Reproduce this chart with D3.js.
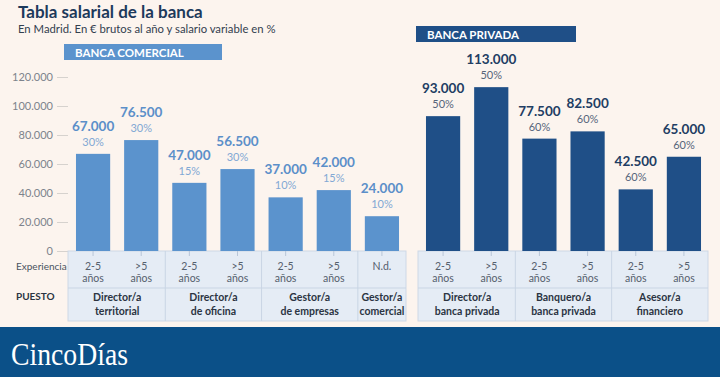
<!DOCTYPE html>
<html>
<head>
<meta charset="utf-8">
<script src="https://cdn.jsdelivr.net/npm/d3@7"></script>
<style>
  body { margin: 0; background: #fcf4ee; }
  svg { display: block; font-family: Lato, "Open Sans", sans-serif; }
</style>
</head>
<body>
<div id="chart"></div>
<script>
// Banca comercial
const comercialSalario = [67000, 76500, 47000, 56500, 37000, 42000, 24000];
const comercialVariable = [30, 30, 15, 30, 10, 15, 10];
const comercialExperiencia = ["2-5|años", ">5|años", "2-5|años", ">5|años", "2-5|años", ">5|años", "N.d."];
const comercialPuestos = ["Director/a|territorial", "Director/a|de oficina", "Gestor/a|de empresas", "Gestor/a|comercial"];
const comercialGrupo = [0, 0, 1, 1, 2, 2, 3];

// Banca privada
const privadaSalario = [93000, 113000, 77500, 82500, 42500, 65000];
const privadaVariable = [50, 50, 60, 60, 60, 60];
const privadaExperiencia = ["2-5|años", ">5|años", "2-5|años", ">5|años", "2-5|años", ">5|años"];
const privadaPuestos = ["Director/a|banca privada", "Banquero/a|banca privada", "Asesor/a|financiero"];
const privadaGrupo = [0, 0, 1, 1, 2, 2];

const yTicks = [0, 20000, 40000, 60000, 80000, 100000, 120000];

const width = 720, height = 377;
const fmt = d3.format(",.0f");
const miles = v => fmt(v).replace(/,/g, ".");

const svg = d3.select("#chart").append("svg")
  .attr("width", width)
  .attr("height", height);

svg.append("rect").attr("width", width).attr("height", height).attr("fill", "#fcf4ee");

// titles
svg.append("text").attr("x", 18).attr("y", 18)
  .attr("font-size", 17).attr("font-weight", 700).attr("fill", "#1d3a5c")
  .text("Tabla salarial de la banca");
svg.append("text").attr("x", 18).attr("y", 33)
  .attr("font-size", 11.3).attr("fill", "#33404f")
  .text("En Madrid. En € brutos al año y salario variable en %");

const y = d3.scaleLinear().domain([0, 120000]).range([251, 77]);

// y axis
const yAxis = svg.append("g").attr("transform", "translate(68,0)")
  .call(d3.axisLeft(y).tickValues(yTicks).tickFormat(d => d === 0 ? "0" : miles(d)).tickSize(11).tickPadding(4));
yAxis.select(".domain").remove();
yAxis.selectAll(".tick line").attr("stroke", "#d6d2ce");
yAxis.selectAll(".tick text").attr("fill", "#7d838c").attr("font-size", 11).attr("font-family", "Lato, sans-serif");

const rowTop = 251, rowMid = 288, rowBottom = 321;

// row labels
svg.append("text").attr("x", 16).attr("y", 270).attr("font-size", 10).attr("fill", "#4a5360").text("Experiencia");
svg.append("text").attr("x", 16).attr("y", 300).attr("font-size", 10).attr("font-weight", 700).attr("fill", "#2b3442").text("PUESTO");

function drawBlock(opt) {
  const x = d3.scaleBand().domain(d3.range(opt.salario.length)).range(opt.range).paddingInner(0.29).paddingOuter(0.145);
  const g = svg.append("g");
  const step = x.step();
  const x0 = opt.range[0], x1 = opt.range[1];

  // header label
  g.append("rect").attr("x", opt.header.x).attr("y", opt.header.y).attr("width", opt.header.w).attr("height", 16)
    .attr("fill", opt.color);
  g.append("text").attr("x", opt.header.x + 11).attr("y", opt.header.y + 12.5)
    .attr("font-size", 11.5).attr("font-weight", 700).attr("fill", "#fff")
    .text(opt.header.text);

  // table panel
  g.append("rect").attr("x", x0 - 1).attr("y", rowTop).attr("width", x1 - x0 + 1).attr("height", rowBottom - rowTop)
    .attr("fill", "#e5ecf5").attr("stroke", "#cdd8e6");
  g.append("line").attr("x1", x0 - 1).attr("x2", x1).attr("y1", rowMid).attr("y2", rowMid).attr("stroke", "#c9d5e4");

  // group separators
  const grupos = d3.groups(d3.range(opt.salario.length), i => opt.grupo[i]);
  grupos.forEach(([gi, idx], k) => {
    const gx0 = x(idx[0]) - step * 0.145;
    const gx1 = x(idx[idx.length - 1]) + x.bandwidth() + step * 0.145;
    if (k > 0) {
      g.append("line").attr("x1", gx0).attr("x2", gx0).attr("y1", rowTop).attr("y2", rowBottom).attr("stroke", "#c9d5e4");
    }
    const lines = opt.puestos[gi].split("|");
    lines.forEach((t, j) => {
      g.append("text").attr("x", (gx0 + gx1) / 2).attr("y", 301 + j * 14)
        .attr("text-anchor", "middle").attr("font-size", 10.5).attr("font-weight", 700).attr("fill", "#2b3442")
        .text(t);
    });
  });

  // experience + small ticks
  opt.experiencia.forEach((e, i) => {
    const cx = x(i) + x.bandwidth() / 2;
    g.append("line").attr("x1", cx).attr("x2", cx).attr("y1", rowTop).attr("y2", rowTop + 5).attr("stroke", "#b9c6d8");
    e.split("|").forEach((t, j) => {
      g.append("text").attr("x", cx).attr("y", 270 + j * 12)
        .attr("text-anchor", "middle").attr("font-size", 10.5).attr("fill", "#55606d")
        .text(t);
    });
  });

  // bars
  g.selectAll(".bar").data(opt.salario).join("rect")
    .attr("class", "bar")
    .attr("x", (d, i) => x(i))
    .attr("y", d => y(d))
    .attr("width", x.bandwidth())
    .attr("height", d => y(0) - y(d))
    .attr("fill", opt.color);

  g.selectAll(".val").data(opt.salario).join("text")
    .attr("class", "val")
    .attr("x", (d, i) => x(i) + x.bandwidth() / 2)
    .attr("y", d => y(d) - 23)
    .attr("text-anchor", "middle").attr("font-size", 13.5).attr("font-weight", 700)
    .attr("fill", opt.valColor)
    .text(d => miles(d));

  g.selectAll(".pct").data(opt.variable).join("text")
    .attr("class", "pct")
    .attr("x", (d, i) => x(i) + x.bandwidth() / 2)
    .attr("y", (d, i) => y(opt.salario[i]) - 8)
    .attr("text-anchor", "middle").attr("font-size", 11)
    .attr("fill", opt.pctColor)
    .text(d => d + "%");
}

drawBlock({
  salario: comercialSalario, variable: comercialVariable, experiencia: comercialExperiencia,
  puestos: comercialPuestos, grupo: comercialGrupo, range: [69, 406],
  color: "#5b93cd", valColor: "#5b8fc9", pctColor: "#82a8d4",
  header: { x: 64, y: 44, w: 158, text: "BANCA COMERCIAL" }
});

drawBlock({
  salario: privadaSalario, variable: privadaVariable, experiencia: privadaExperiencia,
  puestos: privadaPuestos, grupo: privadaGrupo, range: [419, 708],
  color: "#1f4f87", valColor: "#223d63", pctColor: "#56647a",
  header: { x: 416, y: 26, w: 160, text: "BANCA PRIVADA" }
});

// footer
svg.append("rect").attr("x", 0).attr("y", 327).attr("width", width).attr("height", 50).attr("fill", "#0b5088");
svg.append("text").attr("x", 11).attr("y", 365)
  .attr("font-family", "'Liberation Serif', 'DejaVu Serif', serif").attr("font-size", 31).attr("fill", "#fff")
  .attr("textLength", 117).attr("lengthAdjust", "spacingAndGlyphs")
  .text("CincoDías");
</script>
</body>
</html>
